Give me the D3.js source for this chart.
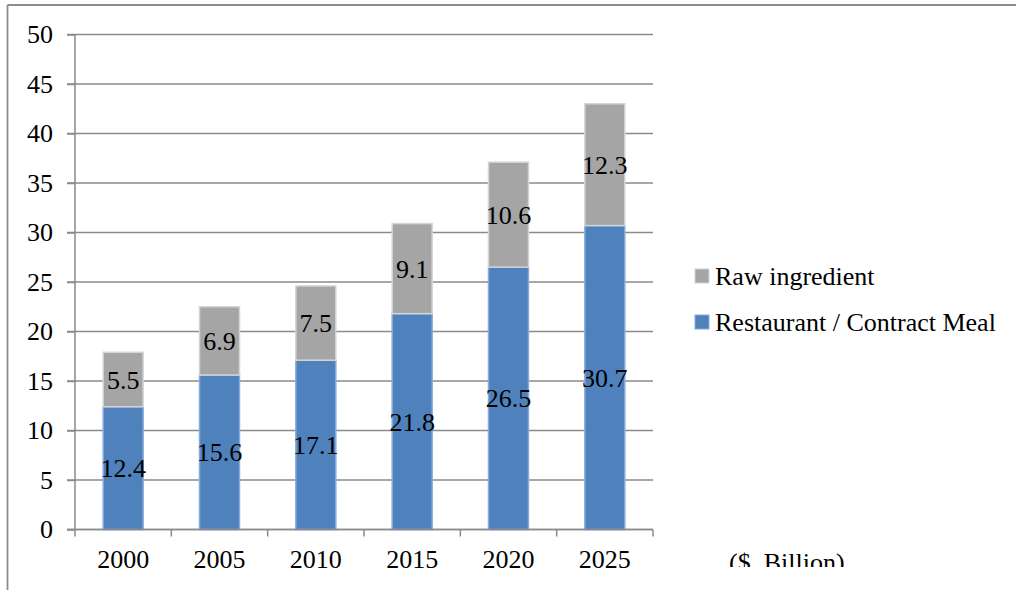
<!DOCTYPE html>
<html><head><meta charset="utf-8">
<script src="https://cdn.jsdelivr.net/npm/d3@7"></script>
<style>
html,body{margin:0;padding:0;background:#fff;overflow:hidden;}
svg{display:block;}
svg text{font-family:"Liberation Serif","Times New Roman",Times,"Nimbus Roman","DejaVu Serif",serif !important;}
</style></head>
<body>
<svg id="chart" width="1016" height="590"></svg>
<script>
const years = ["2000","2005","2010","2015","2020","2025"];
const restaurant = [12.4, 15.6, 17.1, 21.8, 26.5, 30.7];
const raw = [5.5, 6.9, 7.5, 9.1, 10.6, 12.3];
const yTicks = [0,5,10,15,20,25,30,35,40,45,50];
const seriesNames = ["Raw ingredient","Restaurant / Contract Meal"];
const unitLabel = "($. Billion)";

(function(){
const svg = d3.select("#chart");
const W = 1016, H = 590;
const pL = 75, pR = 653, pT = 34.5, pB = 529.5;
const fs = 26;

// outer frame (top + left visible)
svg.append("line").attr("x1",7.5).attr("x2",W).attr("y1",5).attr("y2",5)
  .attr("stroke","#8c8c8c").attr("stroke-width",1.8);
svg.append("line").attr("x1",7.5).attr("x2",7.5).attr("y1",5).attr("y2",H)
  .attr("stroke","#8c8c8c").attr("stroke-width",1.8);

const x = d3.scaleBand().domain(years).range([pL,pR]).padding(0);
const y = d3.scaleLinear().domain([0,50]).range([pB,pT]);

// gridlines
svg.append("g").selectAll("line").data(yTicks).join("line")
  .attr("x1",pL-8).attr("x2",pR)
  .attr("y1",d=>y(d)).attr("y2",d=>y(d))
  .attr("stroke","#8a8a8a").attr("stroke-width",1.5);

// y axis
const yAxis = d3.axisLeft(y).tickValues(yTicks).tickSize(8).tickPadding(14);
const gy = svg.append("g").attr("transform",`translate(${pL},0)`).call(yAxis);
gy.select(".domain").attr("stroke","#8a8a8a").attr("stroke-width",1.5).attr("d",`M0,${pT}V${pB}`);
gy.selectAll(".tick line").attr("stroke","#8a8a8a").attr("stroke-width",1.5);
gy.selectAll(".tick text").attr("font-size",fs).attr("fill","#000");

// stacked data
const stackData = years.map((yr,i)=>({year:yr, restaurant:restaurant[i], raw:raw[i]}));
const stack = d3.stack().keys(["restaurant","raw"]);
const layers = stack(stackData);
const colors = {restaurant:"#4f81bd", raw:"#a5a5a5"};
const strokes = {restaurant:"#86abdc", raw:"#d4d4d4"};
const bw = x.bandwidth()*0.415;

const gBars = svg.append("g");
layers.forEach(layer=>{
  gBars.append("g").selectAll("rect").data(layer).join("rect")
    .attr("x",d=>x(d.data.year)+(x.bandwidth()-bw)/2)
    .attr("width",bw)
    .attr("y",d=>y(d[1]))
    .attr("height",d=>y(d[0])-y(d[1]))
    .attr("fill",colors[layer.key])
    .attr("stroke",strokes[layer.key]).attr("stroke-width",1.5);
});

// x axis
const xAxis = d3.axisBottom(x).tickSize(0).tickPadding(14);
const gx = svg.append("g").attr("transform",`translate(0,${pB})`).call(xAxis);
gx.select(".domain").attr("stroke","#8a8a8a").attr("stroke-width",1.5).attr("d",`M${pL-8},0H${pR}`);
gx.selectAll(".tick text").attr("font-size",fs).attr("fill","#000").attr("dy","0.95em");
// category boundary ticks
const bounds = years.map(d=>x(d)).concat([pR]);
svg.append("g").selectAll("line").data(bounds).join("line")
  .attr("x1",d=>d).attr("x2",d=>d).attr("y1",pB).attr("y2",pB+7)
  .attr("stroke","#8a8a8a").attr("stroke-width",1.5);

// data labels
layers.forEach(layer=>{
  svg.append("g").selectAll("text").data(layer).join("text")
    .attr("x",d=>x(d.data.year)+x.bandwidth()/2)
    .attr("y",d=>(y(d[0])+y(d[1]))/2)
    .attr("dy","0.35em")
    .attr("text-anchor","middle")
    .attr("font-size",fs).attr("fill","#000")
    .text(d=>d.data[layer.key].toFixed(1));
});

// legend
const legend = [
  {name:seriesNames[0], key:"raw", y:276},
  {name:seriesNames[1], key:"restaurant", y:322}
];
const lg = svg.append("g");
legend.forEach(l=>{
  lg.append("rect").attr("x",695).attr("y",l.y-7).attr("width",14).attr("height",14)
    .attr("fill",colors[l.key]).attr("stroke",strokes[l.key]).attr("stroke-width",1);
  lg.append("text").attr("x",715).attr("y",l.y).attr("dy","0.33em")
    .attr("font-size",fs).attr("fill","#000").text(l.name);
});

// unit label (clipped at bottom)
svg.append("clipPath").attr("id","clipU").append("rect").attr("x",0).attr("y",0).attr("width",W).attr("height",567);
svg.append("text").attr("x",729).attr("y",571).attr("clip-path","url(#clipU)")
  .attr("font-size",fs).attr("fill","#000").text(unitLabel);
})();
</script>
</body></html>
